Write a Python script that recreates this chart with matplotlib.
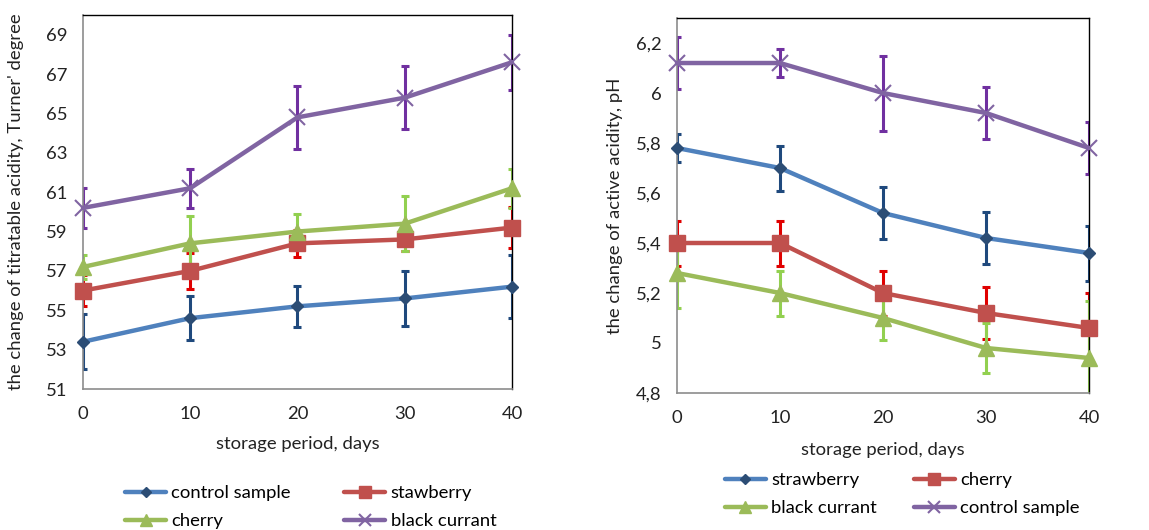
import matplotlib
matplotlib.use("Agg")
import matplotlib.pyplot as plt
from matplotlib.ticker import FuncFormatter

plt.rcParams['font.family'] = ['Lato', 'DejaVu Sans']

days = [0, 10, 20, 30, 40]

# Left chart: titratable acidity, Turner degree
left_names = ["control sample", "stawberry", "cherry", "black currant"]
left_control = [53.4, 54.6, 55.2, 55.6, 56.2]
left_control_err = [1.4, 1.1, 1.05, 1.4, 1.6]
left_straw = [56.0, 57.0, 58.4, 58.6, 59.2]
left_straw_err = [0.8, 0.9, 0.7, 0.6, 1.05]
left_cherry = [57.2, 58.4, 59.0, 59.4, 61.2]
left_cherry_err = [0.6, 1.4, 0.9, 1.4, 1.0]
left_black = [60.2, 61.2, 64.8, 65.8, 67.6]
left_black_err = [1.0, 1.0, 1.6, 1.6, 1.4]
left_yticks = [51, 53, 55, 57, 59, 61, 63, 65, 67, 69]

# Right chart: active acidity, pH
right_names = ["strawberry", "cherry", "black currant", "control sample"]
right_straw = [5.78, 5.70, 5.52, 5.42, 5.36]
right_straw_err = [0.055, 0.09, 0.105, 0.105, 0.11]
right_cherry = [5.40, 5.40, 5.20, 5.12, 5.06]
right_cherry_err = [0.09, 0.09, 0.09, 0.105, 0.14]
right_black = [5.28, 5.20, 5.10, 4.98, 4.94]
right_black_err = [0.14, 0.09, 0.09, 0.10, 0.23]
right_control = [6.12, 6.12, 6.00, 5.92, 5.78]
right_control_err = [0.105, 0.055, 0.15, 0.105, 0.105]
right_yticks = [4.8, 5.0, 5.2, 5.4, 5.6, 5.8, 6.0, 6.2]

BLUE, BLUE_E, BLUE_M = "#4F81BD", "#1F497D", "#2C4D75"
RED, RED_E = "#C0504D", "#E00000"
GREEN, GREEN_E = "#9BBB59", "#92D050"
PURPLE, PURPLE_E = "#8064A2", "#7030A0"

styles = {
    "blue": dict(color=BLUE, ecolor=BLUE_E, marker="D", ms=6, mfc=BLUE_M, mec=BLUE_M, mew=1),
    "red": dict(color=RED, ecolor=RED_E, marker="s", ms=11, mfc=RED, mec=RED, mew=1),
    "green": dict(color=GREEN, ecolor=GREEN_E, marker="^", ms=11, mfc=GREEN, mec=GREEN, mew=1),
    "purple": dict(color=PURPLE, ecolor=PURPLE_E, marker="x", ms=11, mfc=PURPLE, mec=PURPLE, mew=1.5),
}

FS = 13.3
TXT = "#222222"

fig = plt.figure(figsize=(11.49, 5.30), dpi=100)
axL = fig.add_axes([0.0722, 0.266, 0.3734, 0.7057])
axR = fig.add_axes([0.5892, 0.2585, 0.3586, 0.7075])


def draw(ax, y, err, st):
    s = dict(st)
    ecol = s.pop("ecolor")
    col = s.pop("color")
    ax.errorbar(days, y, yerr=err, fmt="none", ecolor=ecol, elinewidth=2.2,
                capsize=3, capthick=2.2, zorder=2)
    ln, = ax.plot(days, y, color=col, lw=3.2, solid_capstyle="round", zorder=3,
                  clip_on=False, **s)
    return ln


def style_axes(ax, ylim, yticks, ylabel, fmt):
    ax.set_xlim(0, 40)
    ax.set_ylim(*ylim)
    ax.set_xticks(days)
    ax.set_yticks(yticks)
    ax.yaxis.set_major_formatter(FuncFormatter(fmt))
    ax.tick_params(length=0, labelsize=FS, colors=TXT)
    ax.tick_params(axis="x", pad=12)
    ax.tick_params(axis="y", pad=11)
    for sp in ("left", "bottom"):
        ax.spines[sp].set_color("#8C8C8C")
        ax.spines[sp].set_linewidth(1.2)
    for sp in ("top", "right"):
        ax.spines[sp].set_color("black")
        ax.spines[sp].set_linewidth(1.0)
    ax.set_ylabel(ylabel, fontsize=FS, color=TXT)


# Left
hL = [
    draw(axL, left_control, left_control_err, styles["blue"]),
    draw(axL, left_straw, left_straw_err, styles["red"]),
    draw(axL, left_cherry, left_cherry_err, styles["green"]),
    draw(axL, left_black, left_black_err, styles["purple"]),
]
style_axes(axL, (51, 70), left_yticks, "the change of titratable acidity, Turner' degree",
           lambda v, p: f"{v:g}")
axL.set_xlabel("storage period, days", fontsize=FS, color=TXT, labelpad=10)
axL.yaxis.set_label_coords(-0.138, 0.5)

# Right
hR = [
    draw(axR, right_straw, right_straw_err, styles["blue"]),
    draw(axR, right_cherry, right_cherry_err, styles["red"]),
    draw(axR, right_black, right_black_err, styles["green"]),
    draw(axR, right_control, right_control_err, styles["purple"]),
]
style_axes(axR, (4.8, 6.3), right_yticks, "the change of active acidity, pH",
           lambda v, p: f"{round(v, 2):g}".replace(".", ","))
axR.set_xlabel("storage period, days", fontsize=FS, color=TXT, labelpad=12)
axR.yaxis.set_label_coords(-0.131, 0.5)

# Legends (column-first order in matplotlib)
leg_kw = dict(ncol=2, loc="upper left", frameon=False, fontsize=FS,
              handlelength=2.2, handletextpad=0.3, labelspacing=0.65,
              borderaxespad=0, borderpad=0, markerscale=0.8)
orderL = [0, 2, 1, 3]
fig.legend([hL[i] for i in orderL], [left_names[i] for i in orderL],
           bbox_to_anchor=(0.109, 0.084), columnspacing=2.9, **leg_kw)
orderR = [0, 2, 1, 3]
fig.legend([hR[i] for i in orderR], [right_names[i] for i in orderR],
           bbox_to_anchor=(0.631, 0.109), columnspacing=2.0, **leg_kw)

fig.savefig("out.png", dpi=100)
